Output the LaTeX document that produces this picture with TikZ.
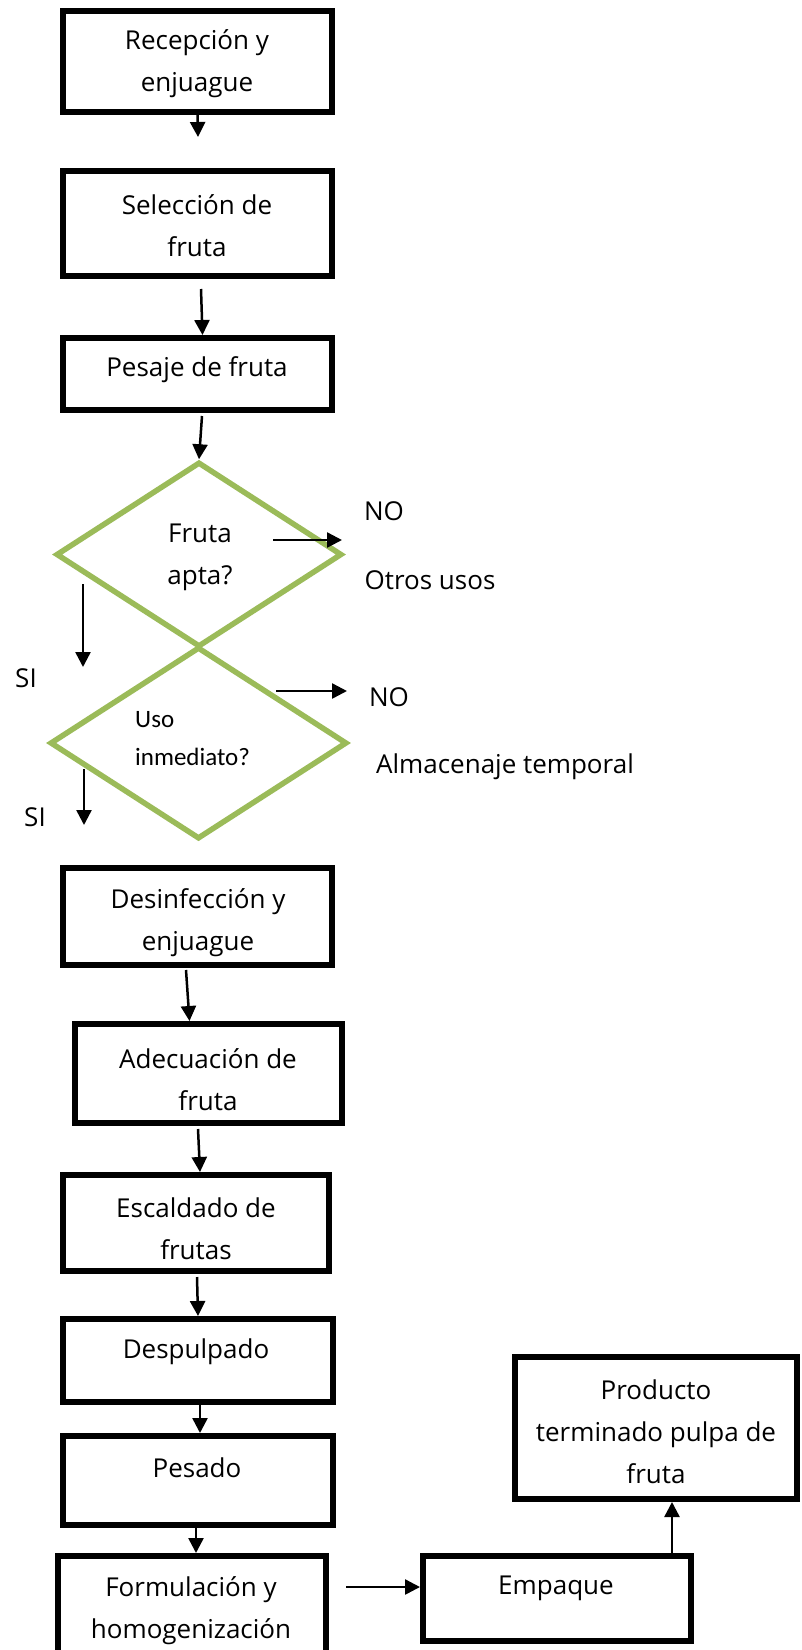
\documentclass[tikz,border=0pt]{standalone}
\usepackage{fontspec}
\setmainfont{Open Sans}
\newfontfamily\calfont{Carlito}
\usetikzlibrary{arrows.meta,shapes.geometric}
\definecolor{dgreen}{HTML}{9BBB59}
\begin{document}
\begin{tikzpicture}[x=1pt,y=-1pt,
  box/.style={draw,line width=6pt,rectangle,inner sep=0pt},
  dec/.style={draw=dgreen,line width=5.5pt,diamond,inner sep=0pt},
  arr/.style={line width=2.5pt,-{Triangle[length=15pt,width=15pt]}},
  txt/.style={font=\fontsize{26}{42}\selectfont,align=center,inner sep=0pt},
  small/.style={font=\calfont\fontsize{25}{38}\selectfont,align=left,inner sep=0pt}]
\useasboundingbox (0,0) rectangle (801,1650);

% decisions
\node[dec,minimum width=286pt,minimum height=185pt] (D1) at (199,554.5) {};
\node[dec,minimum width=297pt,minimum height=192pt] (D2) at (198.5,743) {};

% boxes
\node[box,minimum width=269pt,minimum height=101pt] (B1) at (197.5,61.5) {};
\node[box,minimum width=269pt,minimum height=105pt] (B2) at (197.5,223.5) {};
\node[box,minimum width=269pt,minimum height=72pt] (B3) at (197.5,374) {};
\node[box,minimum width=269pt,minimum height=97pt] (B4) at (197.5,916.5) {};
\node[box,minimum width=267pt,minimum height=99pt] (B5) at (208.5,1073.5) {};
\node[box,minimum width=266pt,minimum height=96pt] (B6) at (196,1223) {};
\node[box,minimum width=270pt,minimum height=83pt] (B7) at (198,1360.5) {};
\node[box,minimum width=270pt,minimum height=89pt] (B8) at (198,1480.5) {};
\node[box,minimum width=268pt,minimum height=104pt] (B9) at (192,1608) {};
\node[box,minimum width=268pt,minimum height=85pt] (B10) at (557,1598.5) {};
\node[box,minimum width=282pt,minimum height=142pt] (B11) at (656,1428) {};

% box texts
\node[txt] (T1) at (197,64) {Recepción y\\enjuague};
\node[txt] (T2) at (197,226) {Selección de\\fruta};
\node[txt] (T3) at (197,370) {Pesaje de fruta};
\node[txt] (T4) at (198,922.5) {Desinfección y\\enjuague};
\node[txt] (T5) at (208,1080) {Adecuación de\\fruta};
\node[txt] (T6) at (196,1228.5) {Escaldado de\\frutas};
\node[txt] (T7) at (196,1352) {Despulpado};
\node[txt] (T8) at (197,1468) {Pesado};
\node[txt] (T9) at (191,1611) {Formulación y\\homogenización};
\node[txt] (T10) at (556,1588) {Empaque};
\node[txt] (T11) at (656,1431.5) {Producto\\terminado pulpa de\\fruta};

% decision texts
\node[txt] (TD1) at (200,557) {Fruta\\apta?};
\node[small,anchor=west] (TD2) at (135,739) {Uso\\inmediato?};

% side labels
\node[txt] (NO1) at (384,511) {NO};
\node[txt] (OU) at (430,580) {Otros usos};
\node[txt] (SI1) at (26,678) {SI};
\node[txt] (NO2) at (389,697) {NO};
\node[txt] (AT) at (505,767) {Almacenaje temporal};
\node[txt] (SI2) at (35,817) {SI};

% coordinates
\coordinate (c1) at (198,137);
\coordinate (s2) at (201,289);
\coordinate (s3) at (202,416);
\coordinate (s4) at (186,970);
\coordinate (s5) at (198,1129);
\coordinate (s6) at (197,1277);
\coordinate (s7) at (200,1402);
\coordinate (s8) at (196,1525);
\coordinate (s9) at (346,1587);
\coordinate (s10) at (672,1553);
\coordinate (n1s) at (273,540);
\coordinate (n1e) at (342,540);
\coordinate (y1s) at (83,584);
\coordinate (y1e) at (83,667);
\coordinate (n2s) at (276,691);
\coordinate (n2e) at (347,691);
\coordinate (y2s) at (84,769);
\coordinate (y2e) at (84,825);

% connectors
\draw[arr] (B1.south) -- (c1);
\draw[arr] (s2) -- ([xshift=5pt]B3.north);
\draw[arr] (s3) -- (D1.north);
\draw[arr] (s4) -- ([xshift=-19pt]B5.north);
\draw[arr] (s5) -- ([xshift=4pt]B6.north);
\draw[arr] (s6) -- (B7.north);
\draw[arr] (s7) -- ([xshift=2pt]B8.north);
\draw[arr] (s8) -- ([xshift=4pt]B9.north);
\draw[arr] (s9) -- (s9 -| B10.west);
\draw[arr] (s10) -- (s10 |- B11.south);
\draw[arr] (n1s) -- (n1e);
\draw[arr] (y1s) -- (y1e);
\draw[arr] (n2s) -- (n2e);
\draw[arr] (y2s) -- (y2e);
\end{tikzpicture}
\end{document}
